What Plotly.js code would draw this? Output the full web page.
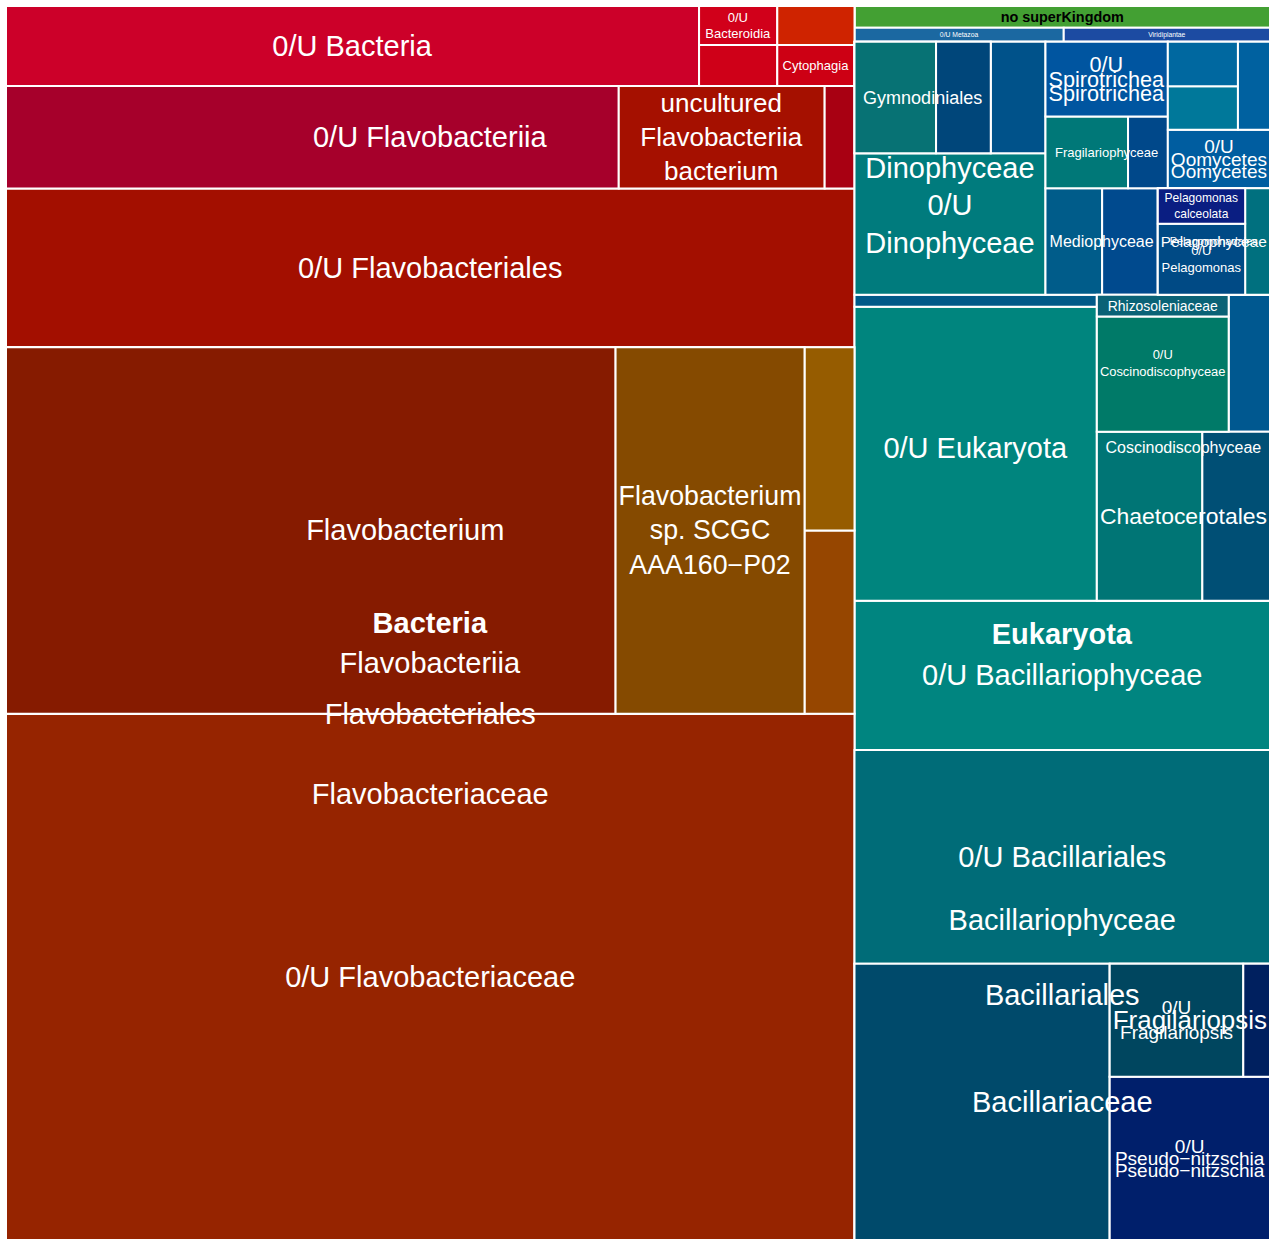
<!DOCTYPE html>
<html>
<head>
<meta charset="utf-8">
<script src="https://cdn.plot.ly/plotly-3.0.1.min.js"></script>
<style>body{margin:0;background:#fff}</style>
</head>
<body>
<div id="chart" style="width:1270px;height:1240px"></div>
<script>
// taxonomy nodes (superkingdom > kingdom > class > order > family > genus > species)
// counts are only given on the leaves, groups get the sum of their children
const nodeIds = [
  'Bacteria', 'Eukaryota', 'noSK',
  'B.Flavobacteriia', 'B.0U', 'B.Bacteroidia', 'B.Cytophagia',
  'B.Bd.x', 'B.Bd.0U',
  'B.Cy.0U', 'B.Cy.x',
  'B.F.Flavobacteriales', 'B.F.0Uo',
  'B.F.0Uo.0U', 'B.F.0Uo.uncultured', 'B.F.0Uo.x',
  'B.F.Fl.Flavobacteriaceae', 'B.F.Fl.0U',
  'B.F.Fl.Fc.0U', 'B.F.Fl.Fc.Flavobacterium', 'B.F.Fl.Fc.x2', 'B.F.Fl.Fc.x1',
  'B.F.Fl.Fc.Fb.0U', 'B.F.Fl.Fc.Fb.sp',
  'E.NA', 'E.Metazoa', 'E.Viridiplantae',
  'E.Bacillariophyceae', 'E.0Uc', 'E.Coscinodiscophyceae', 'E.Dinophyceae', 'E.Mediophyceae',
  'E.Pelagophyceae', 'E.Fragilariophyceae', 'E.Spirotrichea', 'E.Oomycetes', 'E.c2',
  'E.0Uc.0U', 'E.0Uc.x',
  'E.Bc.Bacillariales', 'E.Bc.0U',
  'E.Bc.Bl.Bacillariaceae', 'E.Bc.Bl.0U',
  'E.Bc.Bl.Bf.0U', 'E.Bc.Bl.Bf.Pseudo', 'E.Bc.Bl.Bf.Fragilariopsis',
  'E.Bc.Bl.Bf.Ps.0U', 'E.Bc.Bl.Bf.Fr.0U', 'E.Bc.Bl.Bf.Fr.x',
  'E.Co.Chaetocerotales', 'E.Co.0Uo', 'E.Co.x',
  'E.Co.0Uo.0U', 'E.Co.0Uo.Rhizosoleniaceae',
  'E.Co.Ch.a', 'E.Co.Ch.b',
  'E.D.0U', 'E.D.Gymnodiniales', 'E.D.c', 'E.D.G.a', 'E.D.G.b',
  'E.Me.a', 'E.Me.b',
  'E.Pe.Pelagomonadales', 'E.Pe.Pm', 'E.Pe.x', 'E.Pe.Pm.0U', 'E.Pe.Pm.calceolata',
  'E.Fr.a', 'E.Fr.b',
  'E.Sp.0U', 'E.Oo.0U',
  'E.c2.b', 'E.c2.a', 'E.c2.c'
];

const nodeParents = [
  '', '', '',
  'Bacteria', 'Bacteria', 'Bacteria', 'Bacteria',
  'B.Bacteroidia', 'B.Bacteroidia',
  'B.Cytophagia', 'B.Cytophagia',
  'B.Flavobacteriia', 'B.Flavobacteriia',
  'B.F.0Uo', 'B.F.0Uo', 'B.F.0Uo',
  'B.F.Flavobacteriales', 'B.F.Flavobacteriales',
  'B.F.Fl.Flavobacteriaceae', 'B.F.Fl.Flavobacteriaceae', 'B.F.Fl.Flavobacteriaceae', 'B.F.Fl.Flavobacteriaceae',
  'B.F.Fl.Fc.Flavobacterium', 'B.F.Fl.Fc.Flavobacterium',
  'Eukaryota', 'Eukaryota', 'Eukaryota',
  'E.NA', 'E.NA', 'E.NA', 'E.NA', 'E.NA',
  'E.NA', 'E.NA', 'E.NA', 'E.NA', 'E.NA',
  'E.0Uc', 'E.0Uc',
  'E.Bacillariophyceae', 'E.Bacillariophyceae',
  'E.Bc.Bacillariales', 'E.Bc.Bacillariales',
  'E.Bc.Bl.Bacillariaceae', 'E.Bc.Bl.Bacillariaceae', 'E.Bc.Bl.Bacillariaceae',
  'E.Bc.Bl.Bf.Pseudo', 'E.Bc.Bl.Bf.Fragilariopsis', 'E.Bc.Bl.Bf.Fragilariopsis',
  'E.Coscinodiscophyceae', 'E.Coscinodiscophyceae', 'E.Coscinodiscophyceae',
  'E.Co.0Uo', 'E.Co.0Uo',
  'E.Co.Chaetocerotales', 'E.Co.Chaetocerotales',
  'E.Dinophyceae', 'E.Dinophyceae', 'E.Dinophyceae', 'E.D.Gymnodiniales', 'E.D.Gymnodiniales',
  'E.Mediophyceae', 'E.Mediophyceae',
  'E.Pelagophyceae', 'E.Pe.Pelagomonadales', 'E.Pe.Pelagomonadales', 'E.Pe.Pm', 'E.Pe.Pm',
  'E.Fragilariophyceae', 'E.Fragilariophyceae',
  'E.Spirotrichea', 'E.Oomycetes',
  'E.c2', 'E.c2', 'E.c2'
];

const nodeCounts = [
  0, 0, 9174,
  0, 56000, 0, 0,
  3239, 3081,
  3198, 3042,
  0, 0,
  63448, 21321, 3090,
  0, 135840,
  450819, 0, 9250, 9250,
  225584, 69920,
  0, 2940, 2898,
  0, 0, 0, 0, 0,
  0, 0, 0, 0, 0,
  71980, 2928,
  0, 62550,
  0, 89655,
  71189, 0, 0,
  26400, 15255, 3051,
  0, 0, 5712,
  15312, 2904,
  18020, 11560,
  27264, 0, 6160, 9184, 6160,
  6099, 5992,
  0, 0, 2675, 6264, 3132,
  5976, 2880,
  9225, 6018,
  3080, 3150, 2848
];

const nodeLabels = [
  '<b>Bacteria</b>', '<b>Eukaryota</b>', '<b>no superKingdom</b>',
  'Flavobacteriia', '0/U Bacteria', '', '',
  '', '0/U<br>Bacteroidia',
  'Cytophagia', '',
  'Flavobacteriales', '0/U Flavobacteriia',
  '', 'uncultured<br>Flavobacteriia<br>bacterium', '',
  'Flavobacteriaceae', '0/U Flavobacteriales',
  '0/U Flavobacteriaceae', 'Flavobacterium', '', '',
  '', 'Flavobacterium<br>sp. SCGC<br>AAA160\u2212P02',
  '', '0/U Metazoa', 'Viridiplantae',
  'Bacillariophyceae', '0/U Eukaryota', 'Coscinodiscophyceae', 'Dinophyceae', 'Mediophyceae',
  'Pelagophyceae', 'Fragilariophyceae', 'Spirotrichea', 'Oomycetes', '',
  '', '',
  'Bacillariales', '0/U Bacillariophyceae',
  'Bacillariaceae', '0/U Bacillariales',
  '', 'Pseudo\u2212nitzschia', 'Fragilariopsis',
  '0/U<br>Pseudo\u2212nitzschia', '0/U<br>Fragilariopsis', '',
  'Chaetocerotales', '0/U<br>Coscinodiscophyceae', '',
  '', 'Rhizosoleniaceae',
  '', '',
  '0/U<br>Dinophyceae', 'Gymnodiniales', '', '', '',
  '', '',
  'Pelagomonadales', '', '', '0/U<br>Pelagomonas', 'Pelagomonas<br>calceolata',
  '', '',
  '0/U<br>Spirotrichea', '0/U<br>Oomycetes',
  '', '', ''
];

// styles
const cellColors = {
  'noSK': '#43a033',
  'B.0U': '#cc0029', 'B.Bd.0U': '#d1001a', 'B.Bd.x': '#cf0018',
  'B.Cy.x': '#cf2300', 'B.Cy.0U': '#cd0014',
  'B.F.0Uo.0U': '#a6002b', 'B.F.0Uo.uncultured': '#a51000', 'B.F.0Uo.x': '#a80012',
  'B.F.Fl.0U': '#a30f00', 'B.F.Fl.Fc.0U': '#962400',
  'B.F.Fl.Fc.Fb.0U': '#861b00', 'B.F.Fl.Fc.Fb.sp': '#854a00',
  'B.F.Fl.Fc.x1': '#965c00', 'B.F.Fl.Fc.x2': '#964600',
  'E.Metazoa': '#1b68a1', 'E.Viridiplantae': '#1c4ba2',
  'E.0Uc.0U': '#00857e', 'E.0Uc.x': '#005a88', 'E.Pe.x': '#00707f',
  'E.Bc.0U': '#008580', 'E.Bc.Bl.0U': '#006c78', 'E.Bc.Bl.Bf.0U': '#004a6b',
  'E.Bc.Bl.Bf.Ps.0U': '#001f6b', 'E.Bc.Bl.Bf.Fr.0U': '#00465f', 'E.Bc.Bl.Bf.Fr.x': '#00205f',
  'E.Co.0Uo.Rhizosoleniaceae': '#0a6276', 'E.Co.0Uo.0U': '#007a68', 'E.Co.x': '#005890',
  'E.Co.Ch.a': '#007575', 'E.Co.Ch.b': '#004f75',
  'E.D.0U': '#007b7d', 'E.D.G.a': '#077274', 'E.D.G.b': '#00467a', 'E.D.c': '#00528a',
  'E.Me.a': '#005c8a', 'E.Me.b': '#004a8e',
  'E.Pe.Pm.calceolata': '#0a1e82', 'E.Pe.Pm.0U': '#004a85',
  'E.Fr.a': '#007878', 'E.Fr.b': '#00488a',
  'E.Sp.0U': '#0055a0', 'E.Oo.0U': '#005da0',
  'E.c2.a': '#0068a0', 'E.c2.b': '#00789a', 'E.c2.c': '#0061a0'
};

const labelSizes = {
  'noSK': 20, 'B.Bd.0U': 13, 'B.Cy.0U': 13, 'B.F.0Uo.uncultured': 27, 'B.F.Fl.Fc.Fb.sp': 27,
  'E.Metazoa': 12, 'E.Viridiplantae': 12,
  'E.Coscinodiscophyceae': 16, 'E.Mediophyceae': 16, 'E.Pelagophyceae': 16,
  'E.Fragilariophyceae': 13, 'E.Spirotrichea': 22, 'E.Oomycetes': 20,
  'E.Bc.Bl.Bf.Pseudo': 19, 'E.Bc.Bl.Bf.Fragilariopsis': 26,
  'E.Bc.Bl.Bf.Ps.0U': 19, 'E.Bc.Bl.Bf.Fr.0U': 19,
  'E.Co.Chaetocerotales': 26, 'E.Co.0Uo.Rhizosoleniaceae': 15, 'E.Co.0Uo': 14,
  'E.D.Gymnodiniales': 18,
  'E.Pe.Pelagomonadales': 11, 'E.Pe.Pm.calceolata': 13, 'E.Pe.Pm.0U': 13,
  'E.Sp.0U': 22, 'E.Oo.0U': 20
};

const FONT = 'Liberation Sans, Arial, sans-serif';

// children lookup, totals and depth
const kids = {};
nodeIds.forEach((id, i) => {
  const p = nodeParents[i];
  if (!kids[p]) kids[p] = [];
  kids[p].push(id);
});
const idx = {};
nodeIds.forEach((id, i) => idx[id] = i);

const totals = {};
function total(id) {
  if (totals[id] !== undefined) return totals[id];
  let t = nodeCounts[idx[id]];
  (kids[id] || []).forEach(k => t += total(k));
  totals[id] = t;
  return t;
}
function depth(id) {
  const p = nodeParents[idx[id]];
  return p === '' ? 0 : depth(p) + 1;
}
nodeIds.forEach(total);

const isGroup = id => !!kids[id];
const maxDepth = Math.max(...nodeIds.map(depth));

function treemapTrace(ids, textFor, colorFor, lineWidth) {
  const sizes = ids.map(id => labelSizes[id] || 29);
  const fontColors = ids.map(id => id === 'noSK' ? '#000000' : '#ffffff');
  return {
    type: 'treemap',
    ids: ids,
    labels: ids,
    parents: ids.map(id => nodeParents[idx[id]]),
    values: ids.map(id => totals[id]),
    branchvalues: 'total',
    sort: false,
    text: ids.map(textFor),
    texttemplate: '%{text}',
    textposition: 'middle center',
    textfont: {family: FONT, size: sizes, color: fontColors},
    insidetextfont: {family: FONT, size: sizes, color: fontColors},
    marker: {
      colors: ids.map(colorFor),
      line: {color: '#ffffff', width: lineWidth},
      pad: {t: 0, l: 0, r: 0, b: 0},
      depthfade: false
    },
    tiling: {packing: 'squarify', flip: 'y', pad: 0},
    pathbar: {visible: false},
    hoverinfo: 'none',
    domain: {x: [0, 1], y: [0, 1]}
  };
}

// cells with leaf labels
const data = [treemapTrace(
  nodeIds,
  id => isGroup(id) ? '' : nodeLabels[idx[id]],
  id => cellColors[id] || 'rgba(0,0,0,0)',
  2
)];

// one see-through layer per level for the group labels
for (let k = 0; k < maxDepth; k++) {
  const ids = nodeIds.filter(id => depth(id) <= k);
  data.push(treemapTrace(
    ids,
    id => (depth(id) === k && isGroup(id)) ? nodeLabels[idx[id]] : '',
    id => 'rgba(0,0,0,0)',
    0
  ));
}

const layout = {
  width: 1270,
  height: 1240,
  margin: {l: 6, r: 0, t: 6, b: 0},
  paper_bgcolor: '#ffffff',
  showlegend: false
};

Plotly.newPlot('chart', data, layout, {displayModeBar: false, staticPlot: true});
</script>
</body>
</html>
